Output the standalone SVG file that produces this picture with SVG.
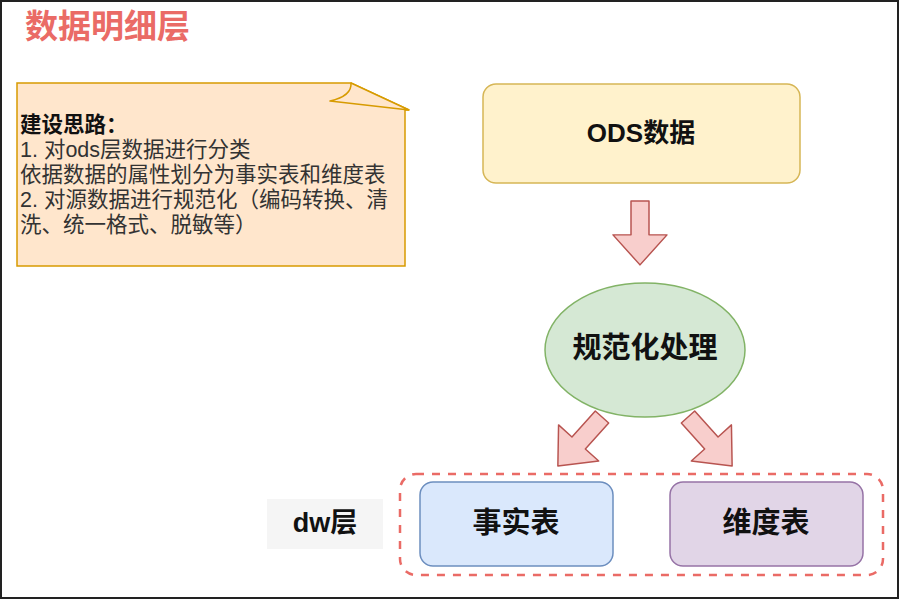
<svg xmlns="http://www.w3.org/2000/svg" width="900" height="600" viewBox="0 0 900 600">
<style>
.t{font-family:"Liberation Sans","Noto Sans CJK SC",sans-serif;font-weight:bold;fill:#111;text-anchor:middle;dominant-baseline:central}
.note{font-family:"Liberation Sans","Noto Sans CJK SC",sans-serif;font-size:21.5px;fill:#333}
.arrow{fill:#F8CECC;stroke:#B85450;stroke-width:1.5;stroke-linejoin:round}
</style>
<defs>
<polygon id="arr" points="-9,0 9,0 9,36 27,36 0,68 -27,36 -9,36" class="arrow"/>
</defs>
<rect x="0" y="0" width="900" height="600" fill="#fff"/>
<rect x="1" y="1" width="897" height="597" fill="none" stroke="#222" stroke-width="2"/>
<g id="title">
<text x="25" y="38" font-family="Liberation Sans,Noto Sans CJK SC,sans-serif" font-size="33" font-weight="bold" fill="#EA6B66">数据明细层</text>
</g>
<g id="note">
<path d="M17,83 L351,83 L409,110 L405,110 L405,266 L17,266 Z" fill="#FFE6CC" stroke="#D79B00" stroke-width="1.5"/>
<path d="M351,83 Q352,96 330,101 L409,110 Z" fill="#FFE6CC" stroke="#D79B00" stroke-width="1.5" stroke-linejoin="round"/>
<text class="note"><tspan x="20" y="132" font-weight="bold" fill="#111">建设思路：</tspan><tspan x="20" y="157">1. 对ods层数据进行分类</tspan><tspan x="20" y="182">依据数据的属性划分为事实表和维度表</tspan><tspan x="20" y="207">2. 对源数据进行规范化（编码转换、清</tspan><tspan x="20" y="232">洗、统一格式、脱敏等）</tspan></text>
</g>
<g id="ods">
<rect x="483" y="84" width="317" height="99" rx="13" fill="#FFF2CC" stroke="#D6B656" stroke-width="1.5"/>
<text class="t" x="641" y="133" font-size="26">ODS数据</text>
</g>
<g id="process">
<ellipse cx="645" cy="350" rx="100" ry="67" fill="#D5E8D4" stroke="#82B366" stroke-width="1.5"/>
<text class="t" x="645" y="348" font-size="29">规范化处理</text>
</g>
<g id="connectors">
<use href="#arr" transform="translate(640,201) scale(1,0.94)"/>
<use href="#arr" transform="translate(602,417) rotate(42) scale(1,0.97)"/>
<use href="#arr" transform="translate(688,417) rotate(-42) scale(1,0.97)"/>
</g>
<g id="dwgroup">
<rect x="400" y="474" width="483" height="101" rx="16" fill="none" stroke="#EA6B66" stroke-width="2.5" stroke-dasharray="8,8"/>
</g>
<g id="dwlabel">
<rect x="267" y="499" width="116" height="50" fill="#F5F5F5"/>
<text class="t" x="325" y="523" font-size="27">dw层</text>
</g>
<g id="fact">
<rect x="420" y="482" width="193" height="84" rx="13" fill="#DAE8FC" stroke="#6C8EBF" stroke-width="1.5"/>
<text class="t" x="516" y="523" font-size="29">事实表</text>
</g>
<g id="dim">
<rect x="670" y="482" width="193" height="84" rx="13" fill="#E1D5E7" stroke="#9673A6" stroke-width="1.5"/>
<text class="t" x="766" y="523" font-size="29">维度表</text>
</g>
</svg>
